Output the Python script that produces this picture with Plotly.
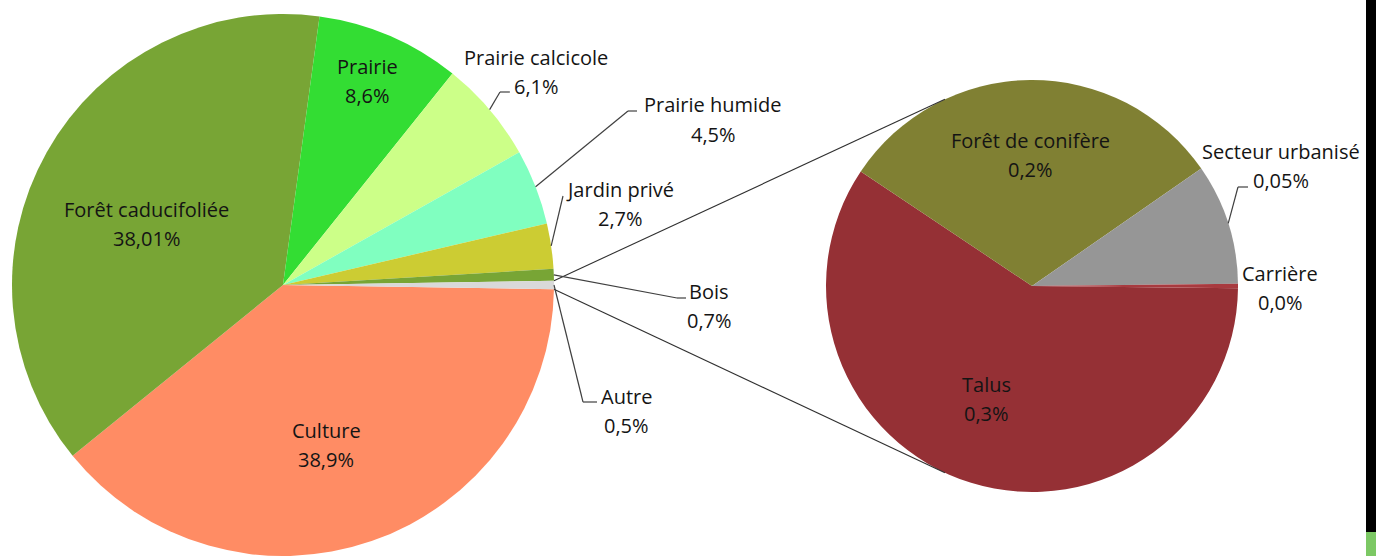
import math
import plotly.graph_objects as go

# ---------------- data ----------------
main_labels = ["Culture", "Forêt caducifoliée", "Prairie", "Prairie calcicole",
               "Prairie humide", "Jardin privé", "Bois", "Autre"]
main_values = [38.9, 38.01, 8.6, 6.1, 4.5, 2.7, 0.7, 0.5]
main_text = ["38,9%", "38,01%", "8,6%", "6,1%", "4,5%", "2,7%", "0,7%", "0,5%"]

sub_labels = ["Talus", "Forêt de conifère", "Secteur urbanisé", "Carrière"]
sub_values = [0.325, 0.17, 0.052, 0.002]
sub_text = ["0,3%", "0,2%", "0,05%", "0,0%"]

# ---------------- styles / layout ----------------
main_colors = ["#FF8C64", "#78A535", "#33DD33", "#CCFF88",
               "#80FFC0", "#CCCC33", "#78A535", "#D9D9D9"]
sub_colors = ["#953035", "#808033", "#969696", "#A83A3F"]

W, H = 1376, 556
MAIN_C, MAIN_R = (283, 285), 271
SUB_C, SUB_R = (1032, 286), 206
FONT = "Open Sans"
FS = 20
TXT = "#141414"
LINE_GAP = 29


def px(x):
    return x / W


def py(y):
    return 1 - y / H


def dom(c, r):
    return dict(x=[px(c[0] - r), px(c[0] + r)], y=[py(c[1] + r), py(c[1] - r)])


main_total = sum(main_values)
sub_total = sum(sub_values)
main_rot = 90 + main_values[-1] / main_total * 360 / 2
sub_rot = 90 + sub_values[-1] / sub_total * 360 * 0.5

fig = go.Figure()
fig.add_trace(go.Pie(labels=main_labels, values=main_values, sort=False,
                     direction="clockwise", rotation=main_rot,
                     marker=dict(colors=main_colors, line=dict(width=0)),
                     textinfo="none", domain=dom(MAIN_C, MAIN_R),
                     showlegend=False, hole=0))
fig.add_trace(go.Pie(labels=sub_labels, values=sub_values, sort=False,
                     direction="clockwise", rotation=sub_rot,
                     marker=dict(colors=sub_colors, line=dict(width=0)),
                     textinfo="none", domain=dom(SUB_C, SUB_R),
                     showlegend=False))


def slice_angles(values, rot):
    tot = sum(values)
    out = []
    a = rot
    for v in values:
        span = v / tot * 360
        out.append((a, a + span))
        a += span
    return out


def rim_point(c, r, ang):
    t = math.radians(ang)
    return (c[0] + r * math.sin(t), c[1] - r * math.cos(t))


main_ang = slice_angles(main_values, main_rot)
sub_ang = slice_angles(sub_values, sub_rot)

shapes = []


def seg(p1, p2, color="#404040", w=1.2):
    shapes.append(dict(type="line", xref="paper", yref="paper",
                       x0=px(p1[0]), y0=py(p1[1]), x1=px(p2[0]), y1=py(p2[1]),
                       line=dict(color=color, width=w)))


# connector lines between the "Autre" slice and the secondary pie
a0, a1 = main_ang[-1]
p_top = rim_point(MAIN_C, MAIN_R, a0)
p_bot = rim_point(MAIN_C, MAIN_R, a1)
seg(p_top, rim_point(SUB_C, SUB_R, -25), "#303030", 1.1)
seg(p_bot, rim_point(SUB_C, SUB_R, 205), "#303030", 1.1)

# label positions (name centre, value centre) and leader elbows
main_pos = {
    "Culture": (326, 430),
    "Forêt caducifoliée": (146, 209),
    "Prairie": (368, 66),
    "Prairie calcicole": (536, 57),
    "Prairie humide": (713, 105),
    "Jardin privé": (620, 189),
    "Bois": (709, 291),
    "Autre": (626, 396),
}
main_leader = {
    "Prairie calcicole": [(500, 92), (510, 92)],
    "Prairie humide": [(628, 111), (637, 111)],
    "Jardin privé": [(563, 196)],
    "Bois": [(677, 298), (686, 298)],
    "Autre": [(583, 402), (597, 402)],
}
sub_pos = {
    "Talus": (986, 384),
    "Forêt de conifère": (1030, 140),
    "Secteur urbanisé": (1281, 151),
    "Carrière": (1280, 273),
}
sub_leader = {
    "Secteur urbanisé": [(1238, 187), (1248, 187)],
}

annotations = []


def add_label(name, value, pos):
    x, y = pos
    for t, yy in ((name, y), (value, y + LINE_GAP)):
        annotations.append(dict(text=t, x=px(x), y=py(yy), xref="paper", yref="paper",
                                showarrow=False, xanchor="center", yanchor="middle",
                                font=dict(family=FONT, size=FS, color=TXT)))


for lab, val, (s, e) in zip(main_labels, main_text, main_ang):
    add_label(lab, val, main_pos[lab])
    if lab in main_leader:
        pts = [rim_point(MAIN_C, MAIN_R, (s + e) / 2)] + main_leader[lab]
        for p, q in zip(pts[:-1], pts[1:]):
            seg(p, q)

for lab, val, (s, e) in zip(sub_labels, sub_text, sub_ang):
    add_label(lab, val, sub_pos[lab])
    if lab in sub_leader:
        pts = [rim_point(SUB_C, SUB_R, (s + e) / 2)] + sub_leader[lab]
        for p, q in zip(pts[:-1], pts[1:]):
            seg(p, q)

# right edge frame strip
shapes.append(dict(type="rect", xref="paper", yref="paper", x0=px(1366), x1=1,
                   y0=py(532), y1=1, fillcolor="#000000", line=dict(width=0), layer="above"))
shapes.append(dict(type="rect", xref="paper", yref="paper", x0=px(1366), x1=1,
                   y0=0, y1=py(532), fillcolor="#7CC864", line=dict(width=0), layer="above"))

fig.update_layout(width=W, height=H, margin=dict(l=0, r=0, t=0, b=0),
                  paper_bgcolor="white", plot_bgcolor="white",
                  shapes=shapes, annotations=annotations, showlegend=False)

fig.write_html("out.html", config={"displayModeBar": False},
               post_script="document.body.style.margin='0';document.body.style.overflow='hidden';")
